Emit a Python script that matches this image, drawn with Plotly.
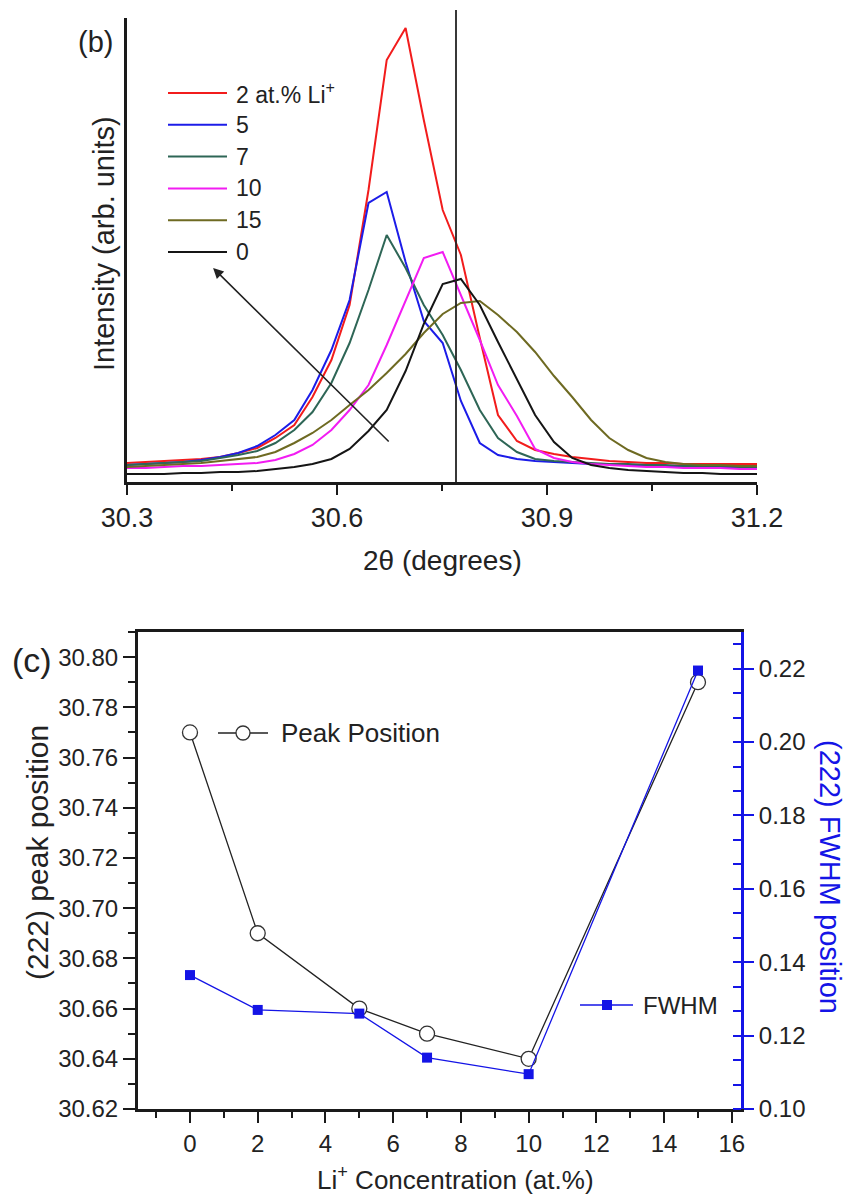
import plotly.graph_objects as go

W, H = 850, 1198
FONT = "Liberation Sans, Arial, sans-serif"
INK = "#1a1a1a"
BLUE = "#1414e6"

# ---------------- (b) (222) reflection profiles ----------------
two_theta = [30.300, 30.327, 30.353, 30.380, 30.406, 30.433, 30.459, 30.486,
             30.512, 30.539, 30.565, 30.592, 30.618, 30.645, 30.671, 30.698,
             30.724, 30.751, 30.777, 30.804, 30.830, 30.857, 30.883, 30.910,
             30.936, 30.963, 30.989, 31.016, 31.042, 31.069, 31.095, 31.122,
             31.148, 31.175, 31.200]

int_li2 = [19, 20, 21, 22, 23, 25, 29, 34, 44, 57, 85, 122, 177, 292, 422, 454,
           362, 272, 227, 144, 67, 41, 32, 28, 25, 23, 21, 20, 19, 19, 18, 18,
           18, 18, 18]
int_li5 = [17, 18, 19, 20, 22, 25, 29, 36, 47, 62, 92, 132, 182, 279, 290, 220,
           161, 139, 81, 39, 27, 23, 21, 20, 19, 18, 18, 17, 17, 16, 16, 16,
           15, 15, 15]
int_li7 = [17, 18, 19, 20, 21, 24, 27, 31, 39, 52, 70, 99, 139, 192, 247, 214,
           177, 147, 112, 72, 44, 30, 23, 21, 20, 19, 18, 18, 17, 17, 16, 16,
           16, 15, 15]
int_li10 = [14, 14, 15, 16, 16, 17, 18, 19, 22, 28, 37, 52, 72, 97, 137, 182,
            224, 230, 187, 142, 97, 66, 33, 24, 20, 18, 17, 16, 15, 15, 14, 14,
            14, 13, 13]
int_li15 = [15, 16, 17, 18, 19, 21, 23, 25, 30, 39, 49, 62, 77, 92, 109, 128,
            149, 168, 179, 181, 167, 150, 130, 106, 85, 62, 44, 32, 24, 20, 18,
            17, 17, 16, 16]
int_li0 = [8, 8, 8, 9, 9, 10, 10, 11, 13, 15, 18, 23, 33, 51, 72, 111, 158, 198,
           203, 177, 140, 103, 67, 40, 24, 17, 14, 12, 11, 10, 9, 9, 8, 8, 8]

profile_labels = ["2 at.% Li<sup>+</sup>", "5", "7", "10", "15", "0"]
profile_colors = ["#f21c1c", "#1c1ce8", "#2e6656", "#f21cf2", "#6e6a22", "#151515"]
profiles = [int_li2, int_li5, int_li7, int_li10, int_li15, int_li0]
undoped_peak = 30.77

# ---------------- (c) peak position and FWHM vs Li content ----------------
li_conc = [0, 2, 5, 7, 10, 15]
peak_position = [30.77, 30.69, 30.66, 30.65, 30.64, 30.79]
fwhm = [0.1365, 0.127, 0.126, 0.114, 0.1095, 0.2195]


def fx(px):
    return px / W


def fy(py):
    return 1 - py / H


fig = go.Figure()

for vals, name, col in zip(profiles, profile_labels, profile_colors):
    fig.add_trace(go.Scatter(x=two_theta, y=vals, mode="lines", name=name,
                             line=dict(color=col, width=2),
                             xaxis="x", yaxis="y", showlegend=False))

fig.add_trace(go.Scatter(x=li_conc, y=peak_position, mode="lines+markers",
                         name="Peak Position", xaxis="x2", yaxis="y2",
                         line=dict(color="#222222", width=1.3),
                         marker=dict(symbol="circle", size=15, color="white",
                                     line=dict(color="#333333", width=1.3)),
                         showlegend=False, cliponaxis=False))
fig.add_trace(go.Scatter(x=li_conc, y=fwhm, mode="lines+markers",
                         name="FWHM", xaxis="x2", yaxis="y3",
                         line=dict(color=BLUE, width=1.3),
                         marker=dict(symbol="square", size=10, color=BLUE),
                         showlegend=False, cliponaxis=False))

axis_common = dict(showgrid=False, zeroline=False, showline=True, linewidth=3,
                   linecolor=INK, tickcolor=INK, tickwidth=2, automargin=False,
                   tickfont=dict(family=FONT, color="#222222"))

fig.update_layout(
    width=W, height=H,
    margin=dict(l=0, r=0, t=0, b=0, autoexpand=False),
    paper_bgcolor="white", plot_bgcolor="white",
    font=dict(family=FONT, color="#222222"),
    showlegend=False,
    xaxis=dict(axis_common, domain=[fx(127), fx(757)], anchor="y",
               range=[30.3, 31.2], tick0=30.3, dtick=0.3, tickformat=".1f",
               ticks="outside", ticklen=10,
               tickfont=dict(family=FONT, size=27, color="#222222"),
               minor=dict(tick0=30.3, dtick=0.15, ticks="outside", ticklen=6,
                          tickwidth=2, tickcolor=INK, showgrid=False)),
    yaxis=dict(axis_common, domain=[fy(482), fy(18)], anchor="x",
               range=[0, 464], showticklabels=False, ticks=""),
    xaxis2=dict(axis_common, domain=[fx(138), fx(741)], anchor="y2",
                range=[-1.535, 16.27], tick0=0, dtick=2, mirror=True,
                ticks="outside", ticklen=11,
                tickfont=dict(family=FONT, size=24, color="#222222"),
                minor=dict(tick0=0, dtick=1, ticks="outside", ticklen=6,
                           tickwidth=2, tickcolor=INK, showgrid=False)),
    yaxis2=dict(axis_common, domain=[fy(1109), fy(632)], anchor="x2",
                range=[30.62, 30.81], tick0=30.62, dtick=0.02,
                tickformat=".2f", ticks="outside", ticklen=12,
                tickfont=dict(family=FONT, size=24, color="#222222"),
                minor=dict(tick0=30.62, dtick=0.01, ticks="outside", ticklen=7,
                           tickwidth=2, tickcolor=INK, showgrid=False)),
    yaxis3=dict(axis_common, overlaying="y2", side="right", anchor="x2",
                range=[0.10, 0.23], tick0=0.10, dtick=0.02, tickformat=".2f",
                linecolor=BLUE, tickcolor=BLUE, ticks="outside", ticklen=10,
                tickfont=dict(family=FONT, size=24, color="#222222"),
                minor=dict(tick0=0.10, dtick=0.02 / 3, ticks="inside",
                           ticklen=8, tickwidth=2, tickcolor=BLUE,
                           showgrid=False)),
)

shapes = []
annotations = []

# reference position of the undoped (222) peak
shapes.append(dict(type="line", xref="x", yref="paper", x0=undoped_peak,
                   x1=undoped_peak, y0=fy(482), y1=fy(10),
                   line=dict(color="#222222", width=1.8)))

# legend of the profiles
for i, (name, col) in enumerate(zip(profile_labels, profile_colors)):
    yy = 93 + 31.8 * i
    shapes.append(dict(type="line", xref="paper", yref="paper",
                       x0=fx(168), x1=fx(227), y0=fy(yy), y1=fy(yy),
                       line=dict(color=col, width=2)))
    annotations.append(dict(xref="paper", yref="paper", x=fx(234), y=fy(yy),
                            xanchor="left", yanchor="middle", showarrow=False,
                            text=name, font=dict(size=23, family=FONT)))

# trend arrow
annotations.append(dict(xref="x", yref="y", axref="x", ayref="y",
                        x=30.423, y=214, ax=30.676, ay=39, text="",
                        showarrow=True, arrowhead=2, arrowsize=1.3,
                        arrowwidth=1.6, arrowcolor="#222222"))

# legend of panel (c)
shapes.append(dict(type="line", xref="paper", yref="paper", x0=fx(218),
                   x1=fx(268), y0=fy(733), y1=fy(733),
                   line=dict(color="#222222", width=1.3)))
shapes.append(dict(type="circle", xref="paper", yref="paper",
                   x0=fx(243 - 7), x1=fx(243 + 7), y0=fy(733 + 7), y1=fy(733 - 7),
                   fillcolor="white", line=dict(color="#333333", width=1.3)))
annotations.append(dict(xref="paper", yref="paper", x=fx(279), y=fy(733),
                        xanchor="left", yanchor="middle", showarrow=False,
                        text="Peak Position", font=dict(size=26, family=FONT)))
shapes.append(dict(type="line", xref="paper", yref="paper", x0=fx(580),
                   x1=fx(633), y0=fy(1005), y1=fy(1005),
                   line=dict(color=BLUE, width=1.3)))
shapes.append(dict(type="rect", xref="paper", yref="paper",
                   x0=fx(607 - 5), x1=fx(607 + 5), y0=fy(1005 + 5), y1=fy(1005 - 5),
                   fillcolor=BLUE, line=dict(width=0)))
annotations.append(dict(xref="paper", yref="paper", x=fx(641), y=fy(1005),
                        xanchor="left", yanchor="middle", showarrow=False,
                        text="FWHM", font=dict(size=24, family=FONT)))

# panel letters and axis titles
text_items = [
    ("(b)", 95, 42, 0, 29, "#222222"),
    ("(c)", 32, 660, 0, 34, "#222222"),
    ("Intensity (arb. units)", 104, 244, -90, 29, "#222222"),
    ("2\u03b8 (degrees)", 442, 560, 0, 28, "#222222"),
    ("(222) peak position", 37, 853, -90, 30, "#222222"),
    ("(222) FWHM position", 830, 877, 90, 29, BLUE),
    ("Li<sup>+</sup> Concentration (at.%)", 455, 1178, 0, 26, "#222222"),
]
for txt, px, py, ang, size, col in text_items:
    annotations.append(dict(xref="paper", yref="paper", x=fx(px), y=fy(py),
                            xanchor="center", yanchor="middle", showarrow=False,
                            text=txt, textangle=ang,
                            font=dict(size=size, family=FONT, color=col)))

fig.update_layout(shapes=shapes, annotations=annotations)
fig.write_html("out.html")
